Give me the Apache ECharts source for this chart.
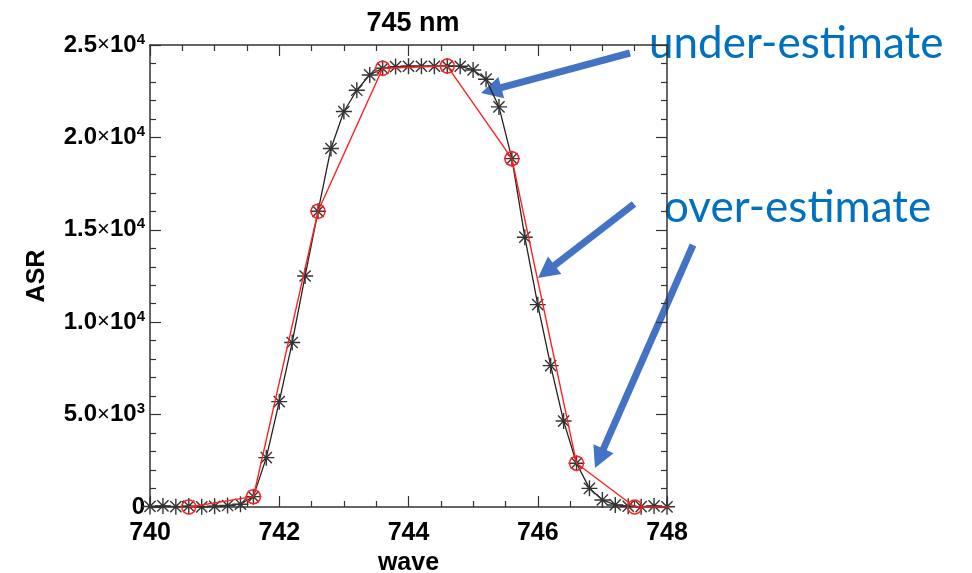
<!DOCTYPE html>
<html>
<head>
<meta charset="utf-8">
<script src="https://cdn.jsdelivr.net/npm/echarts@6/dist/echarts.min.js"></script>
<style>html,body{margin:0;padding:0;background:#fff}#c{width:972px;height:573px}</style>
</head>
<body>
<div id="c"></div>
<script>
// ---- data ----
const titleText = '745 nm';
const xName = 'wave';
const yName = 'ASR';
const xTicks = [740, 742, 744, 746, 748];
const yTicks = [0, 5000, 10000, 15000, 20000, 25000];
const yTickMantissa = ['0', '5.0', '1.0', '1.5', '2.0', '2.5'];
const yTickExp = ['', '3', '4', '4', '4', '4'];

// black (fine sampling) series
const blackWave = [740.0, 740.2, 740.4, 740.6, 740.8, 741.0, 741.2, 741.4, 741.6, 741.8,
  742.0, 742.2, 742.4, 742.6, 742.8, 743.0, 743.2, 743.4, 743.6, 743.8,
  744.0, 744.2, 744.4, 744.6, 744.8, 745.0, 745.2, 745.4, 745.6, 745.8,
  746.0, 746.2, 746.4, 746.6, 746.8, 747.0, 747.2, 747.4, 747.6, 747.8, 748.0];
const blackASR = [30, 60, 20, 50, 10, 40, 80, 150, 560, 2670,
  5700, 8900, 12500, 16000, 19400, 21400, 22550, 23380, 23740, 23830,
  23850, 23850, 23850, 23860, 23850, 23650, 23150, 21650, 18850, 14600,
  10950, 7650, 4650, 2370, 1010, 380, 110, 40, 20, 60, 10];

// red (coarse sampling) series
const redWave = [740.6, 741.6, 742.6, 743.6, 744.6, 745.6, 746.6, 747.5, 748.5];
const redASR = [0, 560, 16000, 23740, 23860, 18850, 2370, 0, 0];

// annotations
const notes = [
  { text: 'under-estimate', x: 649, y: 44 },
  { text: 'over-estimate', x: 664, y: 208 }
];
const arrows = [
  { from: [630, 53], to: [481, 93] },
  { from: [634, 204], to: [538, 278] },
  { from: [693, 245], to: [595, 468] }
];

// ---- chart ----
const chart = echarts.init(document.getElementById('c'), null, { renderer: 'canvas' });
const axisColor = '#333';
const font = 'Liberation Sans, Arial, sans-serif';

function yFmt(v) {
  const i = yTicks.indexOf(v);
  if (i < 0) return '';
  if (!yTickExp[i]) return '{m|' + yTickMantissa[i] + '}';
  return '{m|' + yTickMantissa[i] + '}{x|×}{m|10}{s|' + yTickExp[i] + '}';
}

const baseX = {
  type: 'value', min: 740, max: 748, interval: 2,
  axisLine: { show: true, onZero: false, lineStyle: { color: axisColor, width: 1.5 } },
  axisTick: { show: true, inside: true, length: 11, lineStyle: { color: axisColor, width: 1.2 } },
  minorTick: { show: true, splitNumber: 4, length: 6, lineStyle: { color: axisColor, width: 1.2 } },
  splitLine: { show: false }, minorSplitLine: { show: false }
};
const baseY = {
  type: 'value', min: 0, max: 25000, interval: 5000,
  axisLine: { show: true, onZero: false, lineStyle: { color: axisColor, width: 1.5 } },
  axisTick: { show: true, inside: true, length: 11, lineStyle: { color: axisColor, width: 1.2 } },
  minorTick: { show: true, splitNumber: 5, length: 6, lineStyle: { color: axisColor, width: 1.2 } },
  splitLine: { show: false }, minorSplitLine: { show: false }
};

const graphics = [];
arrows.forEach(a => {
  const dx = a.to[0] - a.from[0], dy = a.to[1] - a.from[1];
  const L = Math.hypot(dx, dy), ux = dx / L, uy = dy / L;
  const hl = 21, hw = 11;
  const bx = a.to[0] - ux * hl, by = a.to[1] - uy * hl;
  graphics.push({
    type: 'line', silent: true,
    shape: { x1: a.from[0], y1: a.from[1], x2: bx + ux * 2, y2: by + uy * 2 },
    style: { stroke: '#4472C4', lineWidth: 7 }
  });
  graphics.push({
    type: 'polygon', silent: true,
    shape: { points: [[a.to[0], a.to[1]], [bx - uy * hw, by + ux * hw], [bx + uy * hw, by - ux * hw]] },
    style: { fill: '#4472C4' }
  });
});
notes.forEach(n => {
  graphics.push({
    type: 'text', silent: true, x: n.x, y: n.y,
    style: { text: n.text, fill: '#0070C0', font: '44px Lato, "Open Sans", sans-serif', verticalAlign: 'middle', align: 'left' }
  });
});

const starPath = 'path://M10,0L10,20M0,10L20,10M3,3L17,17M3,17L17,3';

chart.setOption({
  animation: false,
  backgroundColor: '#fff',
  title: {
    text: titleText, left: 408, top: 5, textAlign: 'center',
    textStyle: { fontFamily: font, fontWeight: 'bold', fontSize: 27, color: '#000' }
  },
  grid: { left: 150, right: 305, top: 45, bottom: 66, containLabel: false, outerBoundsMode: 'none' },
  xAxis: [
    Object.assign({}, baseX, {
      position: 'bottom',
      name: xName, nameLocation: 'middle', nameGap: 42,
      nameTextStyle: { fontFamily: font, fontWeight: 'bold', fontSize: 25, color: '#000' },
      axisLabel: {
        margin: 14, color: '#000', fontFamily: font, fontWeight: 'bold', fontSize: 25,
        formatter: v => (xTicks.indexOf(v) >= 0 ? String(v) : '')
      }
    }),
    Object.assign({}, baseX, { position: 'top', axisLabel: { show: false } })
  ],
  yAxis: [
    Object.assign({}, baseY, {
      position: 'left',
      name: yName, nameLocation: 'middle', nameGap: 100, nameRotate: 90,
      nameTextStyle: { fontFamily: font, fontWeight: 'bold', fontSize: 25, color: '#000' },
      axisLabel: {
        margin: 5, color: '#000', formatter: yFmt,
        rich: {
          m: { fontFamily: font, fontWeight: 'bold', fontSize: 24, color: '#000', lineHeight: 26 },
          x: { fontFamily: font, fontWeight: 'normal', fontSize: 22, color: '#000', lineHeight: 26 },
          s: { fontFamily: font, fontWeight: 'bold', fontSize: 15, color: '#000', verticalAlign: 'top', lineHeight: 14 }
        }
      }
    }),
    Object.assign({}, baseY, { position: 'right', axisLabel: { show: false } })
  ],
  series: [
    {
      type: 'line', name: 'fine', xAxisIndex: 0, yAxisIndex: 0,
      data: blackWave.map((w, i) => [w, blackASR[i]]),
      symbol: starPath, symbolSize: 16, showAllSymbol: true, clip: true,
      lineStyle: { color: '#222', width: 1.3 },
      itemStyle: { color: 'rgba(0,0,0,0)', borderColor: '#333', borderWidth: 1.4 },
      z: 3
    },
    {
      type: 'line', name: 'coarse', xAxisIndex: 0, yAxisIndex: 0,
      data: redWave.map((w, i) => (w > 748 ? { value: [w, redASR[i]], symbol: 'none' } : [w, redASR[i]])),
      symbol: 'circle', symbolSize: 14, showAllSymbol: true, clip: true,
      lineStyle: { color: '#ff2020', width: 1.4 },
      itemStyle: { color: 'rgba(0,0,0,0)', borderColor: '#ff2020', borderWidth: 1.5 },
      z: 4
    }
  ],
  graphic: graphics
});
</script>
</body>
</html>
